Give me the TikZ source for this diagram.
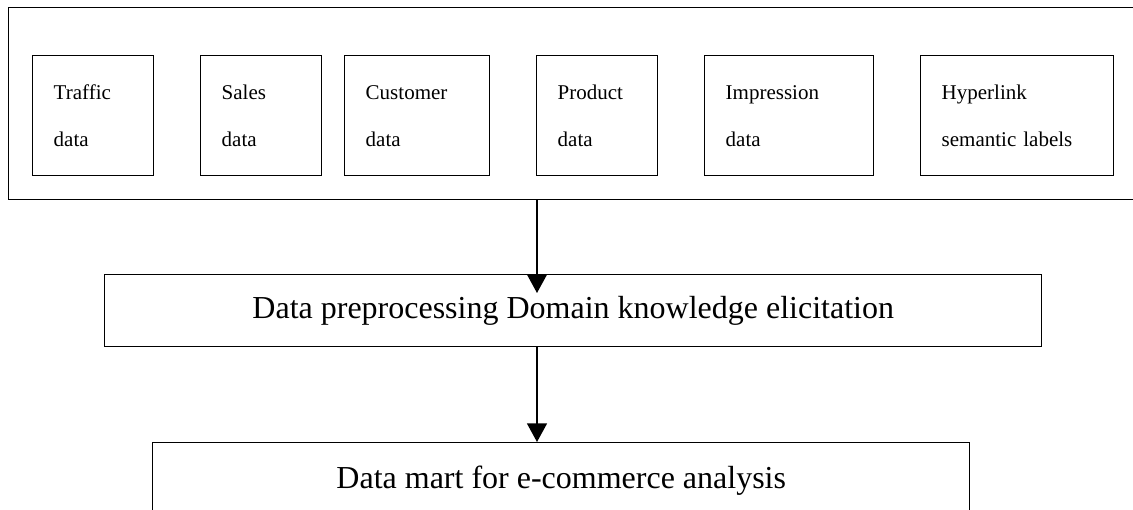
\documentclass[tikz,border=0pt]{standalone}
\usepackage{fontspec}
\setmainfont{Liberation Serif}
\usetikzlibrary{arrows.meta,calc}
\begin{document}
\begin{tikzpicture}[x=0.75pt,y=-0.75pt,
  srcbox/.style={draw,line width=1.1pt,anchor=north west,minimum height=90pt,
    inner xsep=15.75pt,inner ysep=0pt,align=left,
    font=\fontsize{15.75pt}{35.25pt}\selectfont},
  bigbox/.style={draw,line width=1.1pt,anchor=north west,inner sep=0pt,
    font=\fontsize{24pt}{28pt}\selectfont},
  arr/.style={line width=1.1pt,-{Triangle[width=15pt,length=14pt]}}]
\useasboundingbox (0,0) rectangle (1133,510);
% outer frame
\node[draw,line width=1.1pt,anchor=north west,minimum width=849pt,minimum height=144pt,inner sep=0pt] (outer) at (8,7) {};
% source boxes
\node[srcbox,text width={(121-42)*0.75pt}] (traffic) at (32,55) {Traffic\\data};
\node[srcbox,text width={(121-42)*0.75pt}] (sales) at (200,55) {Sales\\data};
\node[srcbox,text width={(145-42)*0.75pt}] (customer) at (344,55) {Customer\\data};
\node[srcbox,text width={(121-42)*0.75pt}] (product) at (536,55) {Product\\data};
\node[srcbox,text width={(169-42)*0.75pt}] (impression) at (704,55) {Impression\\data};
\node[srcbox,text width={(193-42)*0.75pt}] (hyperlink) at (920,55) {Hyperlink\\semantic labels};
% processing box
\node[bigbox,minimum width={937*0.75pt},minimum height={72*0.75pt}] (mid) at (104,274) {Data preprocessing Domain knowledge elicitation};
% data mart box
\node[bigbox,minimum width={817*0.75pt},minimum height={75*0.75pt}] (low) at (152,442) {Data mart for e-commerce analysis};
% connectors
\coordinate (ax) at (537,0);
\coordinate (a1tip) at (537,293);
\draw[arr] (outer.south -| ax) -- (a1tip);
\draw[arr] (mid.south -| ax) -- (low.north -| ax);
\end{tikzpicture}
\end{document}
